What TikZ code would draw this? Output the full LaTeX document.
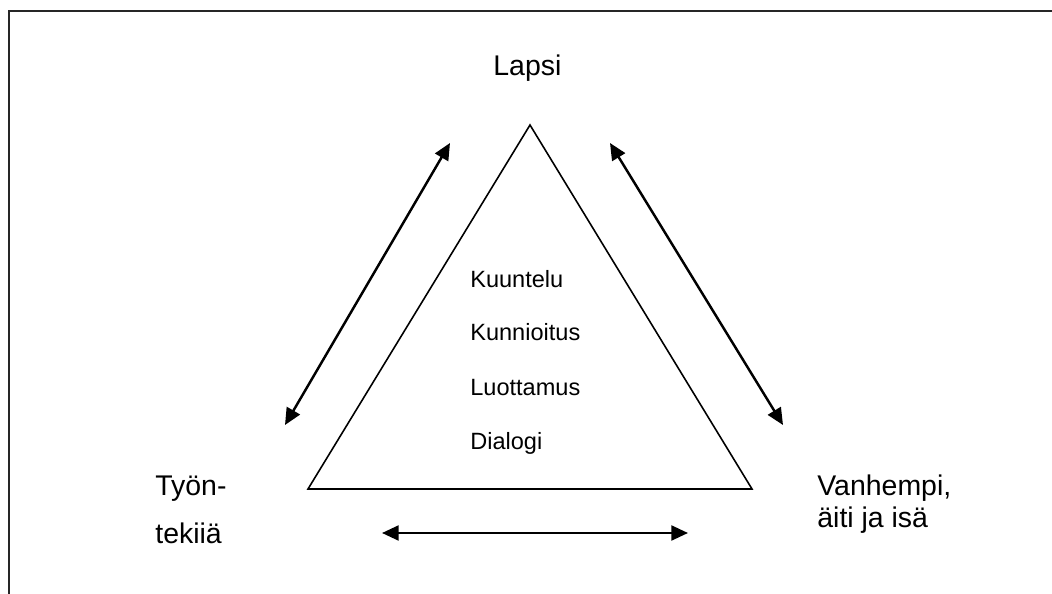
\documentclass[tikz,border=0pt]{standalone}
\usepackage{fontspec}
\setmainfont{Liberation Sans}
\usetikzlibrary{arrows.meta}
\begin{document}
\begin{tikzpicture}[x=0.02cm,y=-0.02cm]
    \tikzset{% styles for the parts
    big/.style={font=\fontsize{16.2}{18.7}\selectfont,anchor=base west,inner sep=0pt,align=left},
    small/.style={font=\fontsize{13.4}{16}\selectfont,anchor=base west,inner sep=0pt},
    side/.style={line width=0.9pt},
    twoway/.style={{Triangle[length=9.5pt,width=8.5pt]}-{Triangle[length=9.5pt,width=8.5pt]},line width=1.4pt},
    }
    \useasboundingbox (0,0) rectangle (1052,594);
    % Frame
    \draw[line width=1.3pt,black!85] (9,600) -- (9,11) -- (1060,11);

    % Triangle
    \coordinate (top) at (530,125);
    \coordinate (bl) at (308,489);
    \coordinate (br) at (752,489);
    \draw[side] (top) -- (bl) -- (br) -- cycle;

    % Nodes
    \node[big] (lapsi) at (493,76) {Lapsi};
    \node[big] (tyontekija) at (155,543) {Työn-\\[8.5pt]tekiiä};
    \node[big] (vanhempi) at (817,528) {Vanhempi,\\äiti ja isä};
    \node[small] (kuuntelu) at (470,288) {Kuuntelu};
    \node[small] (kunnioitus) at (470,341) {Kunnioitus};
    \node[small] (luottamus) at (470,396) {Luottamus};
    \node[small] (dialogi) at (470,450) {Dialogi};

    % Arrow ends
    \coordinate (a1) at (450,143);
    \coordinate (a2) at (285,425);
    \coordinate (b1) at (610,143);
    \coordinate (b2) at (783,425);
    \coordinate (c1) at (382,533);
    \coordinate (c2) at (688,533);

    %Edges
    \draw[twoway] (a2) -- (a1);
    \draw[twoway] (b1) -- (b2);
    \draw[twoway] (c1) -- (c2);

\end{tikzpicture}
\end{document}
